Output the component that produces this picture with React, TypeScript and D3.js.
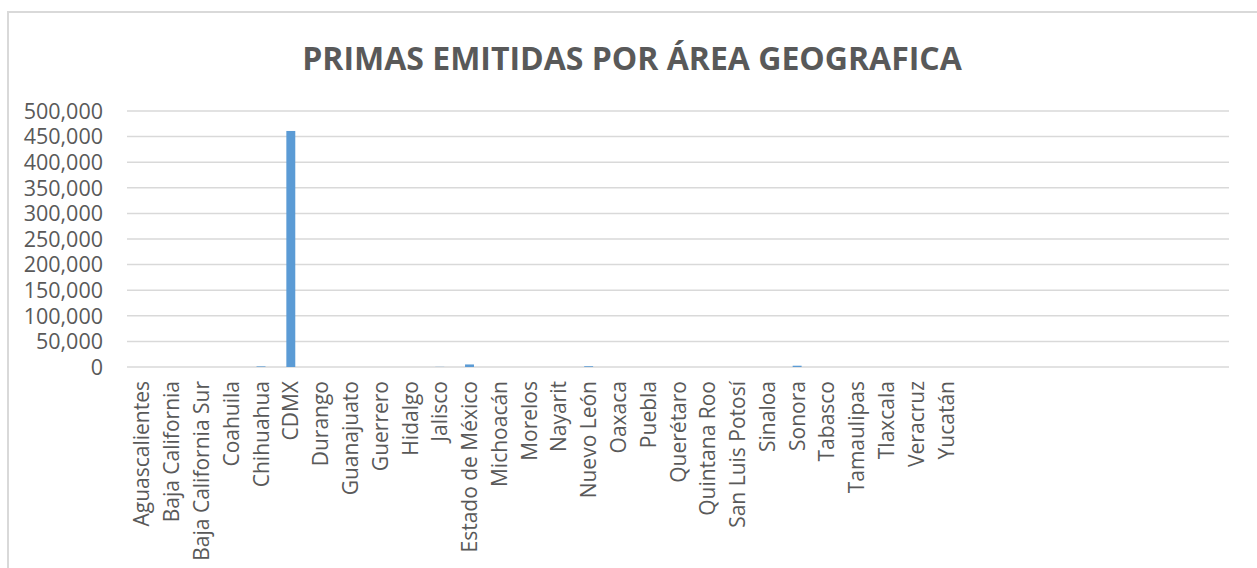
import React, { useEffect, useRef } from "react";
import * as d3 from "d3";

const title = "PRIMAS EMITIDAS POR ÁREA GEOGRAFICA";

// 24 named states, then empty slots the source sheet left in the range
const states = [
  "Aguascalientes", "Baja California", "Baja California Sur", "Coahuila",
  "Chihuahua", "CDMX", "Durango", "Guanajuato", "Guerrero", "Hidalgo",
  "Jalisco", "Estado de México", "Michoacán", "Morelos", "Nayarit",
  "Nuevo León", "Oaxaca", "Puebla", "Querétaro", "Quintana Roo",
  "San Luis Potosí", "Sinaloa", "Sonora", "Tabasco", "Tamaulipas",
  "Tlaxcala", "Veracruz", "Yucatán",
  "", "", "", "", "", "", "", "", "",
];
const primas = [
  0, 0, 0, 0, 1200, 461000, 0, 0, 0, 0,
  300, 5000, 0, 0, 0, 1500, 0, 0, 0, 0,
  0, 0, 2500, 0, 0, 0, 0, 0,
  0, 0, 0, 0, 0, 0, 0, 0, 0,
];
const yTicks = [0, 50000, 100000, 150000, 200000, 250000, 300000, 350000, 400000, 450000, 500000];

const W = 1257;
const H = 568;
const margin = { top: 111, right: 28, bottom: 201, left: 127 };

const App = () => {
  const ref = useRef<SVGSVGElement>(null);

  useEffect(() => {
    const svg = d3.select(ref.current);
    svg.selectAll("*").remove();

    const data = states.map((s, i) => ({ key: String(i), name: s, value: primas[i] }));

    const x = d3
      .scaleBand()
      .domain(data.map((d) => d.key))
      .range([margin.left, W - margin.right])
      .paddingInner(0.7)
      .paddingOuter(0.35);

    const y = d3
      .scaleLinear()
      .domain([0, 500000])
      .range([H - margin.bottom, margin.top]);

    // chart area border
    svg
      .append("rect")
      .attr("x", 8)
      .attr("y", 12)
      .attr("width", W + 20)
      .attr("height", H + 20)
      .attr("fill", "none")
      .attr("stroke", "#d9d9d9")
      .attr("stroke-width", 2);

    svg
      .append("text")
      .attr("x", 632)
      .attr("y", 70)
      .attr("text-anchor", "middle")
      .attr("fill", "#595959")
      .style("font-family", "'Open Sans', sans-serif")
      .style("font-weight", "bold")
      .style("font-size", "32px")
      .text(title);

    // grid + y labels
    const gy = svg.append("g");
    gy.selectAll("line")
      .data(yTicks)
      .join("line")
      .attr("x1", margin.left)
      .attr("x2", W - margin.right)
      .attr("y1", (d) => y(d))
      .attr("y2", (d) => y(d))
      .attr("stroke", "#d9d9d9")
      .attr("stroke-width", 1.5);

    gy.selectAll("text")
      .data(yTicks)
      .join("text")
      .attr("x", 103)
      .attr("y", (d) => y(d))
      .attr("dy", "0.36em")
      .attr("text-anchor", "end")
      .attr("fill", "#595959")
      .style("font-family", "'Open Sans', sans-serif")
      .style("font-size", "21.5px")
      .text((d) => d3.format(",")(d));

    // bars
    svg
      .append("g")
      .selectAll("rect")
      .data(data)
      .join("rect")
      .attr("x", (d) => x(d.key)!)
      .attr("width", x.bandwidth())
      .attr("y", (d) => y(d.value))
      .attr("height", (d) => y(0) - y(d.value))
      .attr("fill", "#5b9bd5");

    // x labels, rotated
    svg
      .append("g")
      .selectAll("text")
      .data(data)
      .join("text")
      .attr(
        "transform",
        (d) => `translate(${x(d.key)! + x.bandwidth() / 2},${y(0) + 14}) rotate(-90)`
      )
      .attr("dy", "0.36em")
      .attr("text-anchor", "end")
      .attr("fill", "#595959")
      .style("font-family", "'Open Sans', sans-serif")
      .style("font-size", "21px")
      .text((d) => d.name);
  }, []);

  return (
    <svg
      ref={ref}
      width={W}
      height={H}
      style={{ position: "absolute", left: 0, top: 0, display: "block", background: "#fff" }}
    />
  );
};

export default App;
